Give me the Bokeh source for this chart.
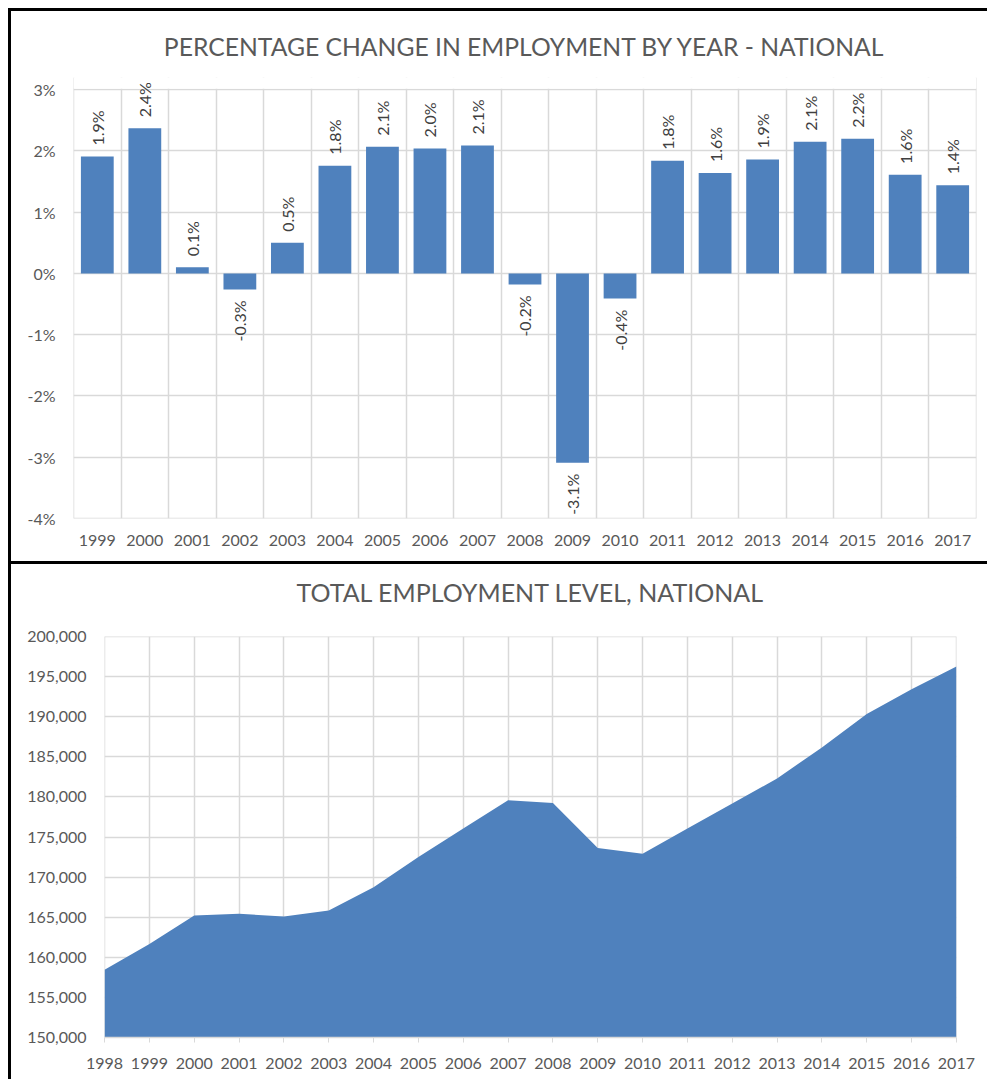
from bokeh.plotting import figure
from bokeh.layouts import column
from bokeh.models import (ColumnDataSource, FixedTicker, PrintfTickFormatter,
                          NumeralTickFormatter, Range1d, LabelSet, BoxAnnotation,
                          InlineStyleSheet)
from bokeh.embed import file_html
from bokeh.resources import INLINE
from bokeh.core.properties import value
import math

# ---------------- data ----------------
change_years = [1999, 2000, 2001, 2002, 2003, 2004, 2005, 2006, 2007, 2008,
                2009, 2010, 2011, 2012, 2013, 2014, 2015, 2016, 2017]
change_pct = [1.91, 2.37, 0.10, -0.26, 0.50, 1.76, 2.07, 2.04, 2.09, -0.18,
              -3.09, -0.41, 1.84, 1.64, 1.86, 2.15, 2.20, 1.61, 1.44]
change_labels = ["1.9%", "2.4%", "0.1%", "-0.3%", "0.5%", "1.8%", "2.1%", "2.0%",
                 "2.1%", "-0.2%", "-3.1%", "-0.4%", "1.8%", "1.6%", "1.9%",
                 "2.1%", "2.2%", "1.6%", "1.4%"]
pct_ticks = [-4, -3, -2, -1, 0, 1, 2, 3]
title1 = "PERCENTAGE CHANGE IN EMPLOYMENT BY YEAR - NATIONAL"

level_years = [1998, 1999, 2000, 2001, 2002, 2003, 2004, 2005, 2006, 2007,
               2008, 2009, 2010, 2011, 2012, 2013, 2014, 2015, 2016, 2017]
level_values = [158460, 161670, 165210, 165420, 165090, 165840, 168750, 172500,
                176050, 179590, 179250, 173630, 172920, 176050, 179170, 182300,
                186170, 190340, 193420, 196250]
level_ticks = [150000, 155000, 160000, 165000, 170000, 175000, 180000, 185000,
               190000, 195000, 200000]
title2 = "TOTAL EMPLOYMENT LEVEL, NATIONAL"

FONT = "Lato"
TXT = "#595959"
LBL = "#404040"
GRID = "#D9D9D9"
BLUE = "#4F81BD"

NO_SCROLL = InlineStyleSheet(css="""
:host, *, *::before, *::after { scrollbar-width: none !important; }
::-webkit-scrollbar { display: none !important; width: 0 !important; height: 0 !important; }
""")


def style_title(p, size, pad_top, pad_bottom):
    t = p.title
    t.align = "center"
    t.text_font = FONT
    t.text_font_size = size
    t.text_font_style = "normal"
    t.text_color = TXT
    t.standoff = 0
    t.padding = dict(left=0, right=0, top=pad_top, bottom=pad_bottom)


# ---------------- top chart ----------------
n = len(change_years)
xc = [i + 0.5 for i in range(n)]
src = ColumnDataSource(dict(x=xc, top=change_pct))
pos_src = ColumnDataSource(dict(
    x=[x for x, v in zip(xc, change_pct) if v >= 0],
    y=[v for v in change_pct if v >= 0],
    lab=[l for l, v in zip(change_labels, change_pct) if v >= 0]))
neg_src = ColumnDataSource(dict(
    x=[x for x, v in zip(xc, change_pct) if v < 0],
    y=[v for v in change_pct if v < 0],
    lab=[l for l, v in zip(change_labels, change_pct) if v < 0]))

# y range extends a little above 3% so rotated data labels are not clipped
p1 = figure(width=979, height=550, output_backend="svg", toolbar_location=None,
            x_range=Range1d(-0.001, n + 0.001), y_range=Range1d(-4.001, 3.2),
            min_border_left=62, min_border_right=14, min_border_top=66,
            min_border_bottom=43, title=title1)
style_title(p1, "24.7px", 10, 17)
p1.outline_line_color = None
p1.stylesheets = [NO_SCROLL]

p1.vbar(x="x", top="top", bottom=0, width=0.69, source=src,
        fill_color=BLUE, line_color=None)
# white mask hiding vertical grid lines above the 3% line
p1.add_layout(BoxAnnotation(bottom=pct_ticks[-1] + 0.015, fill_color="white",
                            fill_alpha=1, line_color=None, level="underlay"))
for s, align, off in ((pos_src, "left", 11), (neg_src, "right", -11)):
    p1.add_layout(LabelSet(x="x", y="y", text="lab", source=s,
                           angle=math.pi / 2, text_align=align,
                           text_baseline="middle", y_offset=off,
                           text_font=value(FONT), text_font_size="16px",
                           text_color=LBL))

p1.xaxis.ticker = FixedTicker(ticks=xc)
p1.xaxis.major_label_overrides = {c: str(y) for c, y in zip(xc, change_years)}
p1.yaxis.ticker = FixedTicker(ticks=pct_ticks)
p1.yaxis.formatter = PrintfTickFormatter(format="%d%%")
for ax in (p1.xaxis[0], p1.yaxis[0]):
    ax.axis_line_color = None
    ax.major_tick_line_color = None
    ax.minor_tick_line_color = None
    ax.major_label_text_font = FONT
    ax.major_label_text_font_size = "16px"
    ax.major_label_text_color = TXT
p1.xaxis.major_label_standoff = 10
p1.yaxis.major_tick_out = 0
p1.yaxis.major_label_standoff = 18
p1.xgrid.ticker = FixedTicker(ticks=list(range(n + 1)))
p1.ygrid.ticker = FixedTicker(ticks=pct_ticks)
for g in (p1.xgrid[0], p1.ygrid[0]):
    g.grid_line_color = GRID
    g.grid_line_width = 1.5

# ---------------- bottom chart ----------------
p2 = figure(width=979, height=515, output_backend="svg", toolbar_location=None,
            x_range=Range1d(level_years[0] - 0.002, level_years[-1] + 0.002),
            y_range=Range1d(150000, 200000.2),
            min_border_left=93, min_border_right=34, min_border_top=72,
            min_border_bottom=42, title=title2)
style_title(p2, "25px", 8, 30)
p2.outline_line_color = None
p2.stylesheets = [NO_SCROLL]

p2.varea(x=level_years, y1=[150000] * len(level_years), y2=level_values,
         fill_color=BLUE)

p2.xaxis.ticker = FixedTicker(ticks=level_years)
p2.yaxis.ticker = FixedTicker(ticks=level_ticks)
p2.yaxis.formatter = NumeralTickFormatter(format="0,0")
for ax in (p2.xaxis[0], p2.yaxis[0]):
    ax.minor_tick_line_color = None
    ax.major_label_text_font = FONT
    ax.major_label_text_font_size = "16px"
    ax.major_label_text_color = TXT
p2.yaxis.axis_line_color = None
p2.yaxis.major_tick_line_color = None
p2.yaxis.major_tick_out = 0
p2.yaxis.major_label_standoff = 18
p2.xaxis.axis_line_color = GRID
p2.xaxis.axis_line_width = 1.5
p2.xaxis.major_tick_line_color = GRID
p2.xaxis.major_tick_out = 5
p2.xaxis.major_tick_in = 0
p2.xaxis.major_label_standoff = 15
p2.xgrid.ticker = FixedTicker(ticks=level_years)
p2.ygrid.ticker = FixedTicker(ticks=level_ticks)
for g in (p2.xgrid[0], p2.ygrid[0]):
    g.grid_line_color = GRID
    g.grid_line_width = 1.5

# ---------------- borders & layout ----------------
block1 = column(p1, spacing=0, stylesheets=[NO_SCROLL], styles={
    "margin": "11px 0 0 11px", "overflow": "hidden", "width": "979px",
    "scrollbar-width": "none",
    "box-shadow": "-3px -3px 0 0 #000, -3px 3px 0 0 #000"})
block2 = column(p2, spacing=0, stylesheets=[NO_SCROLL], styles={
    "margin": "3px 0 0 11px", "overflow": "hidden", "width": "979px",
    "scrollbar-width": "none",
    "box-shadow": "-3px -3px 0 0 #000, -3px 0 0 0 #000"})

open("out.html", "w").write(file_html([block1, block2], INLINE))
